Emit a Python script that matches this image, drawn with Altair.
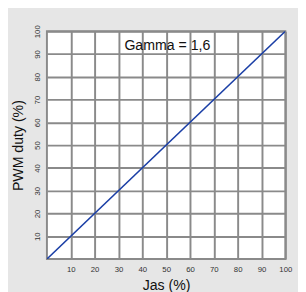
import altair as alt
import pandas as pd

jas = [0, 100]
pwm = [0, 100]
ticks = [10, 20, 30, 40, 50, 60, 70, 80, 90, 100]
note = "Gamma = 1,6"
note_x = [50.5]
note_y = [93.6]

df = pd.DataFrame({"jas": jas, "pwm": pwm})
note_df = pd.DataFrame({"jas": note_x, "pwm": note_y, "t": [note]})
grid_col = "#8a8a8a"
font = "Liberation Sans"

x_axis = alt.Axis(values=ticks, title="Jas (%)", labelPadding=7, titlePadding=5)
y_axis = alt.Axis(values=ticks, title="PWM duty (%)", labelPadding=6, titlePadding=8,
                  labelAngle=270, labelAlign="center", labelBaseline="bottom")
x_scale = alt.Scale(domain=[0, 100], nice=False)
y_scale = alt.Scale(domain=[0, 100], nice=False)

line = alt.Chart(df).mark_line(color="#1b3fa6", strokeWidth=1.6, clip=True).encode(
    x=alt.X("jas:Q", scale=x_scale, axis=x_axis),
    y=alt.Y("pwm:Q", scale=y_scale, axis=y_axis))

text = alt.Chart(note_df).mark_text(
    font=font, fontSize=14.5, color="#111111", align="center", baseline="middle"
).encode(x=alt.X("jas:Q", scale=x_scale, axis=x_axis),
         y=alt.Y("pwm:Q", scale=y_scale, axis=y_axis),
         text="t:N")

chart = (line + text).properties(
    width=245, height=234,
    background="#e6e6e6",
    padding={"left": 40, "top": 20, "right": 13, "bottom": 30},
    autosize=alt.AutoSizeParams(type="none"),
).configure_view(fill="white", stroke=grid_col, strokeWidth=2
).configure_axis(
    grid=True, gridColor=grid_col, gridWidth=2, gridOpacity=1,
    domain=False, ticks=False,
    labelOverlap=False, labelFlush=False, labelBound=False,
    labelFontSize=8, labelColor="#333333", labelFont=font,
    titleFont=font, titleFontSize=14.5, titleFontWeight="normal", titleColor="#111111",
)

chart.save("out.html", embed_options={"renderer": "svg", "actions": False})
